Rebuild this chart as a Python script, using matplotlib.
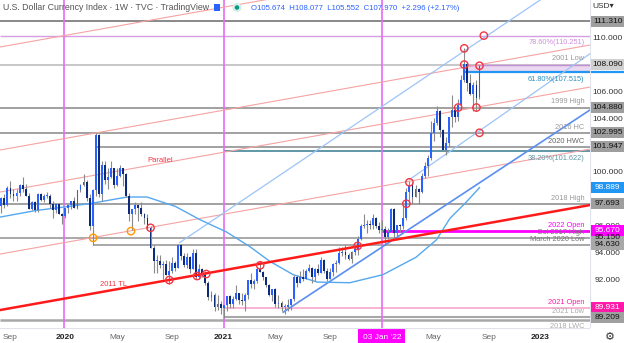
import numpy as np
import pandas as pd
import matplotlib
matplotlib.use("Agg")
import matplotlib.pyplot as plt
import matplotlib.dates as mdates
from matplotlib.patches import Rectangle, Ellipse

W, H = 624, 343
plt.rcParams["font.family"] = ["Liberation Sans", "DejaVu Sans"]

# ---- weekly candles (week start dates) ----
weeks = pd.date_range("2019-08-12", "2022-08-15", freq="7D")

opens = [97.5, 98.1, 97.6, 98.9, 98.4, 98.3, 98.5, 99.1, 98.8, 98.3, 97.3, 97.8, 97.2, 98.4, 98.0, 98.3, 98.3, 97.7, 97.2, 97.7, 96.9,
         96.8, 97.4, 97.6, 97.9, 97.4, 98.7, 99.1, 99.3, 98.1, 96.0, 98.7, 102.8, 98.4, 100.6, 99.5, 99.7, 100.4, 99.1, 99.8, 100.4,
         99.9, 98.3, 96.9, 97.3, 97.6, 97.4, 96.9, 96.6, 95.9, 94.4, 93.4, 93.4, 93.1, 93.2, 92.4, 92.7, 93.3, 92.9, 94.6, 93.8,
         93.1, 93.7, 92.8, 94.0, 92.2, 92.8, 92.4, 91.8, 90.7, 90.9, 90.0, 90.2,
         89.9, 90.1, 90.8, 90.2, 90.6, 91.0, 90.5, 90.4, 90.9, 92.0, 91.7, 91.9, 92.8, 92.6, 92.2, 91.6, 90.9, 91.3, 90.2, 90.3,
         90.0, 90.0, 90.1, 90.6, 92.2, 91.8, 92.2, 92.1, 92.7, 92.9, 92.2, 92.8, 92.5, 93.5, 92.7, 92.1, 92.6, 93.2, 93.3, 94.0,
         94.1, 93.9, 93.6, 94.1, 94.3, 95.1, 96.0, 96.1, 96.2, 96.1, 96.6, 96.0,
         95.7, 95.8, 95.2, 95.6, 97.3, 95.5, 96.1, 96.0, 96.6, 98.6, 99.1, 98.2, 98.8, 98.6, 99.8, 100.5, 101.1, 103.0, 103.7,
         104.6, 103.2, 101.7, 102.2, 104.2, 104.7, 104.2, 105.1, 106.9, 108.1, 106.7, 105.9, 106.6, 105.674]
highs = [98.2, 98.4, 99.0, 99.4, 98.8, 98.8, 99.2, 99.7, 99.2, 98.5, 97.9, 97.9, 98.5, 98.5, 98.4, 98.6, 98.4, 97.9, 97.7, 97.7, 97.0,
         97.4, 97.6, 97.9, 98.2, 98.7, 99.2, 99.9, 99.5, 98.4, 98.8, 102.99, 102.9, 100.9, 100.9, 100.4, 100.9, 100.4, 100.4, 100.6, 100.4,
         100.0, 98.5, 97.2, 97.8, 97.6, 97.8, 97.0, 96.9, 96.0, 94.6, 93.9, 93.9, 93.4, 93.5, 93.4, 93.7, 93.4, 94.7, 94.7, 94.0,
         94.0, 93.8, 94.3, 94.3, 93.2, 92.9, 92.7, 91.9, 91.2, 91.0, 90.9, 90.4,
         90.1, 90.8, 90.9, 90.8, 91.6, 91.0, 91.0, 91.0, 92.0, 92.5, 92.1, 93.0, 93.4, 92.7, 92.2, 91.7, 91.3, 91.4, 90.9, 90.4,
         90.2, 90.6, 90.6, 92.4, 92.4, 92.7, 92.8, 92.8, 93.2, 93.0, 92.9, 93.2, 93.7, 93.6, 92.9, 92.9, 93.3, 93.5, 94.5, 94.5,
         94.6, 94.0, 94.2, 94.6, 95.3, 96.2, 96.9, 96.5, 96.5, 96.9, 96.7, 96.3,
         96.5, 96.0, 95.9, 97.4, 97.4, 96.1, 96.2, 97.7, 98.9, 99.4, 99.3, 99.1, 98.9, 100.0, 100.8, 101.3, 103.9, 104.1, 105.0,
         104.7, 103.3, 102.7, 104.2, 105.8, 104.9, 105.5, 107.3, 109.3, 108.3, 107.4, 106.8, 106.9, 108.077]
lows = [97.0, 97.4, 97.5, 98.1, 97.9, 97.9, 98.3, 98.6, 98.3, 97.3, 97.2, 97.1, 97.1, 97.9, 97.8, 98.1, 97.4, 96.6, 97.0, 96.9, 96.2,
        96.6, 97.0, 97.3, 97.4, 97.3, 98.6, 99.0, 97.9, 95.7, 94.65, 98.3, 98.2, 97.9, 99.2, 98.8, 99.6, 98.9, 99.0, 99.7, 99.0,
        98.2, 96.4, 95.7, 96.9, 96.4, 96.8, 96.2, 95.7, 94.4, 92.5, 92.5, 92.9, 92.1, 92.4, 91.7, 92.5, 92.7, 92.9, 93.5, 93.0,
        92.9, 92.5, 92.8, 92.1, 92.1, 92.2, 91.6, 90.5, 90.4, 89.7, 89.8, 89.5,
        89.2, 89.7, 89.9, 89.9, 90.5, 90.2, 90.1, 89.7, 90.6, 91.4, 91.3, 91.8, 92.6, 92.0, 91.5, 90.8, 90.4, 90.0, 89.9, 89.7,
        89.5, 89.7, 89.8, 90.4, 91.5, 91.8, 91.9, 92.1, 92.6, 91.8, 91.9, 92.4, 92.5, 92.5, 91.9, 92.1, 92.3, 92.6, 93.2, 93.8,
        93.6, 93.5, 93.3, 93.9, 93.9, 95.0, 95.9, 95.5, 95.8, 95.8, 95.9, 95.5,
        95.6, 94.6, 95.1, 95.6, 95.1, 95.3, 95.6, 95.8, 96.5, 97.7, 97.7, 98.2, 97.7, 98.5, 99.6, 99.8, 101.0, 102.4, 103.6,
        102.7, 101.6, 101.3, 101.9, 103.4, 103.8, 103.9, 104.9, 106.8, 106.1, 105.8, 104.6, 104.6, 105.552]
closes = [98.1, 97.6, 98.9, 98.4, 98.3, 98.5, 99.1, 98.8, 98.3, 97.3, 97.8, 97.2, 98.4, 98.0, 98.3, 98.3, 97.7, 97.2, 97.7, 96.9, 96.8,
          97.4, 97.6, 97.9, 97.4, 98.7, 99.1, 99.3, 98.1, 96.0, 98.7, 102.8, 98.4, 100.6, 99.5, 99.7, 100.4, 99.1, 99.8, 100.4, 99.9,
          98.3, 96.9, 97.3, 97.6, 97.4, 96.9, 96.6, 95.9, 94.4, 93.4, 93.4, 93.1, 93.2, 92.4, 92.7, 93.3, 92.9, 94.6, 93.8, 93.1,
          93.7, 92.8, 94.0, 92.2, 92.8, 92.4, 91.8, 90.7, 90.9, 90.0, 90.2, 89.9,
          90.1, 90.8, 90.2, 90.6, 91.0, 90.5, 90.4, 90.9, 92.0, 91.7, 91.9, 92.8, 92.6, 92.2, 91.6, 90.9, 91.3, 90.2, 90.3, 90.0,
          90.0, 90.1, 90.6, 92.2, 91.8, 92.2, 92.1, 92.7, 92.9, 92.2, 92.8, 92.5, 93.5, 92.7, 92.1, 92.6, 93.2, 93.3, 94.0, 94.1,
          93.9, 93.6, 94.1, 94.3, 95.1, 96.0, 96.1, 96.2, 96.1, 96.6, 96.0, 95.7,
          95.8, 95.2, 95.6, 97.3, 95.5, 96.1, 96.0, 96.6, 98.6, 99.1, 98.2, 98.8, 98.6, 99.8, 100.5, 101.1, 103.0, 103.7, 104.6,
          103.2, 101.7, 102.2, 104.2, 104.7, 104.2, 105.1, 106.9, 108.1, 106.7, 105.9, 106.6, 105.6, 107.970]

# ---- 52 week moving average ----
ma_dates = ["2019-08-09", "2019-11-01", "2020-01-15", "2020-03-10", "2020-05-27", "2020-07-12", "2020-09-15",
            "2020-11-11", "2021-01-10", "2021-03-05", "2021-04-20", "2021-06-13", "2021-08-07", "2021-10-21",
            "2022-01-05", "2022-03-22", "2022-05-08", "2022-06-08", "2022-07-15", "2022-08-15"]
ma_values = [96.7, 97.2, 97.5, 97.75, 98.2, 98.2, 97.5, 96.5, 95.6, 94.5, 93.4, 92.4, 91.85, 91.8,
             92.4, 93.7, 95.0, 96.6, 97.8, 98.9]

# ---- horizontal levels ----
lvl_prices = [111.310, 110.251, 108.090, 107.515, 104.880, 102.995, 101.947, 101.622, 97.693,
              95.670, 95.150, 94.630, 89.931, 89.209, 89.050]
lvl_labels = ["", "78.60%(110.251)", "2001 Low", "61.80%(107.515)", "1999 High", "2016 HC", "2020 HWC",
              "38.20%(101.622)", "2018 High", "2022 Open", "Oct 2017 High", "March 2020 Low", "2021 Open",
              "2021 Low", "2018 LWC"]
lvl_start = [None, None, None, "2022-07-11", None, None, "2020-03-16", "2021-01-04", None,
             "2022-01-03", None, "2020-03-09", "2021-01-04", "2021-01-04", None]
lvl_colors = ["#808080", "#d69ee0", "#bdbdbd", "#2196f3", "#9a9a9a", "#9a9a9a", "#9a9a9a", "#5f97a6", "#9a9a9a",
              "#ff00ff", "#9a9a9a", "#9a9a9a", "#f7a8d0", "#a8a8a8", "#a8a8a8"]
lvl_lw = [1.3, 1.0, 1.2, 1.6, 1.3, 1.3, 1.3, 1.4, 1.3, 2.0, 1.2, 1.2, 1.2, 1.5, 1.8]
lvl_txtcol = ["#999", "#cf8fdc", "#999", "#2a8fc0", "#999", "#999", "#666", "#5f97a6", "#999",
              "#ff00ff", "#777", "#777", "#ff1aa8", "#aaa", "#aaa"]
lvl_below = [False, True, False, True, False, False, False, True, False,
             False, False, False, False, False, True]

# ---- price axis boxes ----
box_prices = [111.310, 108.090, 104.880, 102.995, 101.947, 98.889, 97.693, 94.630, 95.150, 95.670, 89.931, 89.209]
box_colors = ["#9e9e9e", "#d0d0d0", "#9e9e9e", "#9e9e9e", "#9e9e9e", "#2196f3", "#9e9e9e", "#a8a8a8", "#a8a8a8",
              "#ff00ff", "#ff1aa8", "#a0a0a0"]
box_text = ["#111", "#111", "#111", "#111", "#111", "white", "#111", "#111", "#111", "white", "white", "#111"]
price_ticks = [110, 106, 104, 100, 96, 94, 92]

# ---- trend lines (start date, start price, end date, end price) ----
red_tl = ("2019-08-09", 89.76, "2023-04-26", 97.60)
parallel_start = [109.40, 101.71, 98.57, 93.94]
parallel_end = [117.24, 109.55, 106.41, 101.78]
blue_lines = [("2020-09-25", 94.8, "2023-01-01", 112.9, "#9cc4f7", 0.9),
              ("2021-05-21", 89.6, "2023-04-26", 104.7, "#5a8ff0", 1.2),
              ("2022-03-07", 99.5, "2023-04-26", 108.9, "#9cc4f7", 0.9)]

# ---- marked points ----
red_pts_d = ["2022-07-11", "2022-07-11", "2022-08-15", "2022-08-25", "2022-06-27", "2022-08-08", "2022-08-15",
             "2022-03-07", "2022-02-28", "2021-11-08", "2021-03-29", "2020-09-01", "2020-11-04", "2020-11-25",
             "2020-07-20"]
red_pts_p = [109.3, 108.09, 108.0, 110.251, 104.88, 104.88, 102.995, 99.3, 97.7, 94.55, 93.1, 92.0, 92.3, 92.45, 95.9]
orange_pts_d = ["2020-03-10", "2020-06-05"]
orange_pts_p = [95.15, 95.65]

vlines = ["2020-01-02", "2021-01-04", "2022-01-03"]
xticks = ["2019-09-02", "2020-01-06", "2020-05-04", "2020-09-07", "2021-01-04", "2021-05-03", "2021-09-06",
          "2022-05-02", "2022-09-05", "2023-01-02"]
xtick_labels = ["Sep", "2020", "May", "Sep", "2021", "May", "Sep", "May", "Sep", "2023"]

D = lambda s: mdates.date2num(pd.Timestamp(s))
x0, x1 = D("2019-08-09"), D("2023-04-26")
y0, y1 = 88.42, 112.91

fig = plt.figure(figsize=(W / 100, H / 100), dpi=100)
ax = fig.add_axes([0, 15 / H, 590 / W, 328 / H])
ax.set_xlim(x0, x1)
ax.set_ylim(y0, y1)
ax.axis("off")

# levels
for p, lab, st, c, lw, tc, below in zip(lvl_prices, lvl_labels, lvl_start, lvl_colors, lvl_lw, lvl_txtcol, lvl_below):
    xs = D(st) if st else x0
    ax.plot([xs, x1], [p, p], color=c, lw=lw, zorder=2, solid_capstyle="butt")
    if lab:
        ax.annotate(lab, (x1, p), xytext=(-4, -2.5 if below else 1.5), textcoords="offset points",
                    ha="right", va="top" if below else "bottom", fontsize=5.3, color=tc, zorder=3)

# fib box
ax.add_patch(Rectangle((D("2022-07-11"), 107.515), x1 - D("2022-07-11"), 108.09 - 107.515,
                       facecolor="#ead7f0", edgecolor="none", zorder=1))
ax.plot([D("2022-07-11"), x1], [108.09, 108.09], color="#c58fd6", lw=1.0, zorder=2)

for v in vlines:
    ax.axvline(D(v), color="#e86af5", lw=1.2, zorder=2)

# trend lines
for s, e in zip(parallel_start, parallel_end):
    ax.plot([x0, x1], [s, e], color="#f5a3a3", lw=0.8, zorder=2)
ax.plot([D(red_tl[0]), D(red_tl[2])], [red_tl[1], red_tl[3]], color="#ff1a1a", lw=1.8, zorder=6)
for d0, p0, d1, p1, c, lw in blue_lines:
    ax.plot([D(d0), D(d1)], [p0, p1], color=c, lw=lw, zorder=2)

ax.plot([D(d) for d in ma_dates], ma_values, color="#55a8f0", lw=1.0, zorder=3)

# candles
o, h, l, c = map(np.array, (opens, highs, lows, closes))
xd = mdates.date2num(weeks)
up = c >= o
ax.vlines(xd, l, h, color="#8a8a8a", lw=0.8, zorder=4)
body = np.maximum(np.abs(c - o), 0.08)
ax.bar(xd[up], body[up], bottom=o[up], width=4.3, color="#2962ff", zorder=5)
ax.bar(xd[~up], body[~up], bottom=c[~up], width=4.3, color="#0d2a7a", zorder=5)

ax.scatter([D(d) for d in red_pts_d], red_pts_p, s=28, facecolors="none", edgecolors="#f23645", lw=1.0, zorder=7)
ax.scatter([D(d) for d in orange_pts_d], orange_pts_p, s=28, facecolors="none", edgecolors="#ff9800", lw=1.0, zorder=7)

ax.text(D("2020-08-11"), 100.96, "Parallel", color="#f23645", fontsize=5.5, ha="center", va="center", zorder=8)
ax.text(D("2020-04-25"), 91.7, "2011 TL", color="#f23645", fontsize=5.5, ha="center", va="center", zorder=8)

# price axis
pax = fig.add_axes([590 / W, 15 / H, 34 / W, 328 / H])
pax.set_xlim(0, 1)
pax.set_ylim(y0, y1)
pax.axis("off")
pax.axvline(0, color="#e0e3eb", lw=0.8)
for t in price_ticks:
    pax.text(0.52, t, f"{t:.3f}", ha="center", va="center", fontsize=6, color="#333", zorder=1)
bh = 11 / 13.39
for p, bc, tc in zip(box_prices, box_colors, box_text):
    pax.add_patch(Rectangle((0.02, p - bh / 2), 0.98, bh, facecolor=bc, edgecolor="none", zorder=2))
    pax.text(0.52, p, f"{p:.3f}", ha="center", va="center", fontsize=6, color=tc, zorder=3)
pax.plot([0, 1], [107.515, 107.515], color="#2196f3", lw=1.6, zorder=1)

# time axis
tax = fig.add_axes([0, 0, 590 / W, 15 / H])
tax.set_xlim(x0, x1)
tax.set_ylim(0, 1)
tax.axis("off")
tax.axhline(1, color="#e0e3eb", lw=0.8)
for d, lab in zip(xticks, xtick_labels):
    yr = lab.isdigit()
    tax.text(D(d), 0.35, lab, ha="center", va="center", fontsize=6,
             color="#222" if yr else "#666", fontweight="bold" if yr else "normal")
tax.add_patch(Rectangle((D("2021-11-09"), 0), D("2022-02-24") - D("2021-11-09"), 0.95,
                        facecolor="#ff00ff", edgecolor="none"))
tax.text(D("2022-01-03"), 0.38, "03 Jan '22", ha="center", va="center", fontsize=6, color="white")

# header
fig.text(3 / W, 1 - 8 / H, "U.S. Dollar Currency Index · 1W · TVC · TradingView", fontsize=6.3,
         color="#555", va="center")
fig.patches.append(Rectangle((214 / W, 1 - 11 / H), 6 / W, 7 / H, transform=fig.transFigure,
                             facecolor="#2962ff", edgecolor="none"))
fig.patches.append(Ellipse((237 / W, 1 - 7.5 / H), 9 / W, 9 / H, transform=fig.transFigure,
                           facecolor="#d3efe8", edgecolor="none"))
fig.patches.append(Ellipse((237 / W, 1 - 7.5 / H), 4.5 / W, 4.5 / H, transform=fig.transFigure,
                           facecolor="#089981", edgecolor="none"))
fig.text(251 / W, 1 - 8 / H, "O105.674  H108.077  L105.552  C107.970  +2.296 (+2.17%)", fontsize=5.6,
         color="#2962ff", va="center")

fig.text(603 / W, 1 - 6 / H, "USD▾", fontsize=6, color="#333", ha="center", va="center")
fig.text(610 / W, 1 - 337 / H, "⚙", fontsize=8, color="#333", ha="center", va="center",
         family="DejaVu Sans")

fig.savefig("out.png", dpi=100)
